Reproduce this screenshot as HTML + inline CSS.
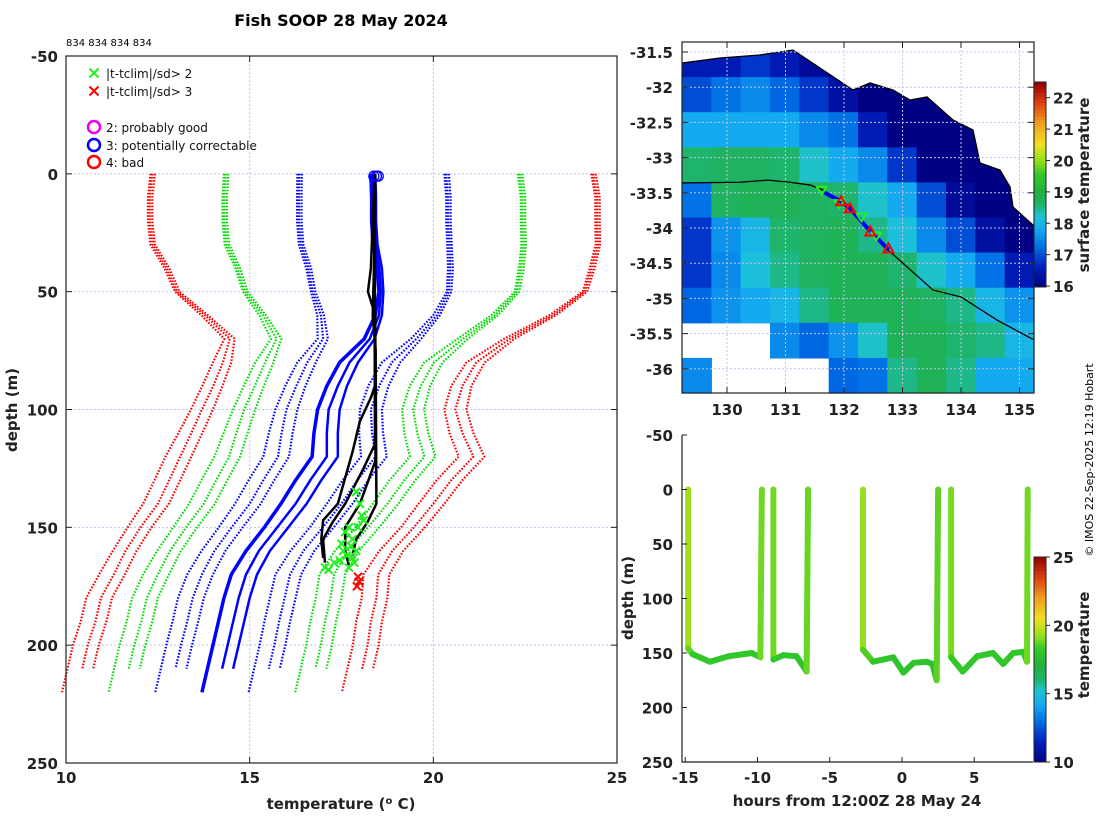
<!DOCTYPE html>
<html><head><meta charset="utf-8">
<style>
html,body{margin:0;padding:0;background:#fff;}
svg{display:block;font-family:"DejaVu Sans","Liberation Sans",sans-serif;}
.tk{font-weight:bold;font-size:15px;fill:#222;}
.lg{font-size:12px;fill:#111;}
</style></head>
<body>
<svg id="fig" width="1100" height="820" viewBox="0 0 1100 820" xmlns="http://www.w3.org/2000/svg">
<text x="341" y="26" text-anchor="middle" font-weight="bold" font-size="16">Fish SOOP 28 May 2024</text>
<text x="66" y="46" font-size="10">834 834 834 834</text>
<g id="left"></g>
<g id="map"></g>
<g id="trace"></g>
<text transform="translate(1093,460) rotate(-90)" text-anchor="middle" font-size="11">© IMOS 22-Sep-2025 12:19 Hobart</text>
</svg>
<script>
// ---------- LEFT PROFILE DATA ----------
const climDepth = [0,10,20,30,40,50,60,70,80,90,100,110,120,130,140,150,160,170,180,190,200,210,220];
const meanA = [18.3,18.32,18.32,18.36,18.47,18.52,18.42,18.12,17.45,17.1,16.85,16.75,16.7,16.25,15.85,15.4,14.9,14.5,14.3,14.15,14.0,13.85,13.7];
const meanB = [18.35,18.37,18.37,18.42,18.53,18.57,18.52,18.27,17.72,17.4,17.15,17.1,17.1,16.65,16.25,15.75,15.25,14.9,14.7,14.55,14.4,14.25];
const meanC = [18.42,18.44,18.44,18.48,18.6,18.64,18.6,18.4,17.95,17.65,17.45,17.4,17.4,16.95,16.55,16.05,15.55,15.2,15.0,14.85,14.7,14.55];
const climSd = [2.0,2.03,2.03,2.02,1.93,1.85,1.58,1.27,1.15,1.13,1.15,1.23,1.33,1.28,1.25,1.24,1.21,1.2,1.25,1.25,1.27,1.27,1.27];
const sdLevels = [-3,-2,-1,1,2,3];
const bDepth1=[0,50,90,95,105,118,140,147,155,163], bTemp1=[18.41,18.41,18.41,18.3,18.0,17.8,17.4,17.0,16.95,17.0];
const bDepth2=[0,50,110,115,125,140,148,155,165], bTemp2=[18.41,18.4,18.41,18.4,18.1,17.6,17.25,17.0,17.05];
const bDepth3=[0,40,50,60,118,122,140,150,160,166], bTemp3=[18.4,18.3,18.22,18.42,18.43,18.42,18.0,17.6,17.6,17.7];
const bDepth4=[0,30,60,75,140,148,155,162], bTemp4=[18.42,18.4,18.35,18.43,18.45,18.2,17.9,17.8];
const flag2Temp=[17.9,18.0,18.05,17.7,17.6,17.8,17.5,17.75,17.9,17.65,17.45,17.85,17.3,17.05,17.15,17.7,17.95,18.1,17.55,17.8];
const flag2Depth=[135,140,145,150,152,155,157,158,160,162,164,165,165,167,168,167,150,147,160,163];
const flag3Temp=[17.95,17.98,17.92];
const flag3Depth=[171,173,175];
const tempTicks=[10,15,20,25];
const depthTicks=[-50,0,50,100,150,200,250];

// ---------- MAP DATA ----------
const sstGrid=[
[16.5,16.5,16.8,16.5,16.2,16.0,16.0,16.0,16.0,null,null,null],
[17.0,17.3,17.5,17.2,16.8,16.3,16.0,16.0,16.0,16.0,null,null],
[17.8,17.8,17.8,17.8,17.5,17.3,16.5,16.0,16.0,16.0,16.0,null],
[18.6,18.7,18.7,18.6,18.3,17.8,17.5,16.8,16.0,16.0,16.0,16.0],
[17.3,18.7,18.8,18.8,18.7,18.6,18.3,17.8,17.0,16.2,16.0,16.0],
[16.8,17.6,18.0,18.6,18.7,18.8,18.5,18.2,17.5,17.0,16.3,16.0],
[16.8,17.5,18.2,18.5,18.7,18.8,18.8,18.6,18.3,17.8,17.3,16.5],
[17.2,17.6,17.8,18.0,18.5,18.8,18.8,18.8,18.7,18.5,18.0,17.6],
[null,null,null,17.5,17.2,17.6,18.3,18.8,18.8,18.6,18.5,18.0],
[17.5,null,null,null,null,17.2,17.3,18.5,18.8,18.5,17.8,17.8]];
const trackLon=[129.23,130.22,130.70,131.08,131.42,131.64,132.10,132.75,133.52,134.0,134.62,135.25];
const trackLat=[-33.36,-33.35,-33.32,-33.35,-33.39,-33.46,-33.74,-34.31,-34.88,-34.98,-35.31,-35.59];
const shipLon=[131.65,131.9,132.1,132.4,132.76];
const shipLat=[-33.49,-33.6,-33.72,-34.0,-34.31];
const redTriLon=[131.95,132.1,132.45,132.76], redTriLat=[-33.62,-33.72,-34.05,-34.29];
const grnTriLon=[131.62,131.92,132.3,132.55], grnTriLat=[-33.47,-33.66,-33.85,-34.12];
const lonTicks=[130,131,132,133,134,135];
const latTicks=[-31.5,-32,-32.5,-33,-33.5,-34,-34.5,-35,-35.5,-36];
const sstTicks=[16,17,18,19,20,21,22];

// ---------- TRACE DATA (null = break) ----------
const trHours=[-14.8,-14.8,-14.5,-13.3,-12.0,-10.4,-9.8,-9.7,null,-8.9,-8.9,-8.2,-7.3,-6.6,-6.5,null,-2.7,-2.7,-2.0,-0.6,0.1,0.8,1.7,2.1,2.4,2.5,null,3.4,3.4,4.2,5.2,6.3,7.0,7.7,8.4,8.65,8.7];
const trDepth=[0,146,151,158,153,150,154,0,null,0,156,152,153,167,0,null,0,147,158,154,168,159,158,160,175,0,null,0,154,167,153,150,160,150,149,158,0];
const trTemp=[19.6,19.2,18.3,18.1,18.2,18.2,18.2,19.6,null,19.6,18.2,18.2,18.1,18.0,19.6,null,19.6,19.0,18.1,18.1,17.9,18.0,18.0,18.0,17.8,19.6,null,19.6,18.4,18.1,18.2,18.2,18.1,18.2,18.2,18.2,19.6];
const hourTicks=[-15,-10,-5,0,5];
const tDepthTicks=[-50,0,50,100,150,200,250];
const tempCbTicks=[10,15,20,25];

const NS="http://www.w3.org/2000/svg";
function mk(parent,tag,attrs){const e=document.createElementNS(NS,tag);for(const k in attrs)e.setAttribute(k,attrs[k]);parent.appendChild(e);return e;}
function txt(parent,x,y,s,cls,anchor){const t=mk(parent,'text',{x:x,y:y,'class':cls,'text-anchor':anchor||'middle'});t.textContent=s;return t;}
const stops=[[0,[0,0,128]],[0.1,[0,32,192]],[0.2,[0,112,230]],[0.28,[20,170,240]],[0.35,[30,195,215]],[0.4,[30,180,110]],[0.47,[34,176,60]],[0.55,[50,200,40]],[0.62,[150,224,30]],[0.7,[240,224,32]],[0.8,[240,160,32]],[0.9,[224,64,16]],[1,[144,0,0]]];
function cmap(f){f=Math.max(0,Math.min(1,f));for(let i=1;i<stops.length;i++){if(f<=stops[i][0]){const a=stops[i-1],b=stops[i];const u=(f-a[0])/(b[0]-a[0]);const c=a[1].map((v,j)=>Math.round(v+(b[1][j]-v)*u));return 'rgb('+c.join(',')+')';}}return 'rgb(144,0,0)';}

// ---------- LEFT PLOT ----------
(function(){
const g=document.getElementById('left');
const X0=66,X1=617,Y0=56,Y1=763;
const xs=t=>X0+(t-10)/15*(X1-X0);
const ys=d=>Y0+(d+50)/300*(Y1-Y0);
[15,20].forEach(t=>{const l=mk(g,'line',{x1:xs(t),x2:xs(t),y1:Y0,y2:Y1,stroke:'#c0c4e8','stroke-width':1,'stroke-dasharray':'2,2'});});
[0,50,100,150,200].forEach(d=>{const l=mk(g,'line',{x1:X0,x2:X1,y1:ys(d),y2:ys(d),stroke:'#c0c4e8','stroke-width':1,'stroke-dasharray':'2,2'});});
const colFor={1:'#0000ff',2:'#00dd00',3:'#ff0000'};
const means=[meanA,meanB,meanC];
means.forEach(M=>{
  sdLevels.forEach(k=>{
    const pts=M.map((m,i)=>xs(m+k*climSd[i]).toFixed(1)+','+ys(climDepth[i]).toFixed(1));
    const pl=mk(g,'polyline',{points:pts.join(' '),fill:'none',stroke:colFor[Math.abs(k)],'stroke-width':2.2,'stroke-dasharray':'1.6,1.6'});
    
    
  });
});
means.forEach((M,p)=>{
  const pts=M.map((m,i)=>xs(m)+','+ys(climDepth[i]));
  const pl=mk(g,'polyline',{points:pts.join(' '),fill:'none',stroke:'#0000ff','stroke-width':p===0?3.5:2.5});
  
  
});
[[bDepth1,bTemp1],[bDepth2,bTemp2],[bDepth3,bTemp3],[bDepth4,bTemp4]].forEach(([D,T])=>{
  const pts=D.map((d,i)=>xs(T[i])+','+ys(d)).join(' ');
  const pl=mk(g,'polyline',{points:pts,fill:'none',stroke:'#000','stroke-width':2.5});
  
  
});
function cross(x,y,c,s){return mk(g,'path',{d:`M${x-s},${y-s}L${x+s},${y+s}M${x-s},${y+s}L${x+s},${y-s}`,stroke:c,'stroke-width':2});}
flag2Temp.forEach((t,i)=>{const p=cross(xs(t),ys(flag2Depth[i]),'#22ee22',4);});
flag3Temp.forEach((t,i)=>{const p=cross(xs(t),ys(flag3Depth[i]),'#ff0000',4);});
[18.38,18.45,18.5].forEach(t=>{const c=mk(g,'circle',{cx:xs(t),cy:ys(1),r:5,fill:'none',stroke:'#0000ff','stroke-width':1.3});});
const fr=mk(g,'rect',{x:X0,y:Y0,width:X1-X0,height:Y1-Y0,fill:'none',stroke:'#222','stroke-width':1.2});

depthTicks.forEach(d=>{mk(g,'line',{x1:X0,x2:X0+6,y1:ys(d),y2:ys(d),stroke:'#222'});mk(g,'line',{x1:X1-6,x2:X1,y1:ys(d),y2:ys(d),stroke:'#222'});const t=txt(g,X0-8,ys(d)+6,String(d),'tk','end');});
tempTicks.forEach(v=>{mk(g,'line',{x1:xs(v),x2:xs(v),y1:Y1,y2:Y1-6,stroke:'#222'});mk(g,'line',{x1:xs(v),x2:xs(v),y1:Y0,y2:Y0+6,stroke:'#222'});const t=txt(g,xs(v),783,String(v),'tk');});
const xl=mk(g,'text',{x:341,y:809,'text-anchor':'middle','class':'tk'});xl.innerHTML='temperature (<tspan baseline-shift="super" font-size="10">o</tspan> C)';

const yl=mk(g,'text',{transform:'translate(17,410) rotate(-90)','text-anchor':'middle','class':'tk'});yl.textContent='depth (m)';

const lg=mk(g,'g',{});
lg.appendChild(cross(94,73,'#22ee22',4.5));
lg.appendChild(cross(94,91,'#ff0000',4.5));
const e1=txt(lg,106,78,'|t-tclim|/sd> 2','lg','start');
const e2=txt(lg,106,96,'|t-tclim|/sd> 3','lg','start');
[['#ee00ee',127,'2: probably good'],['#0000ff',145,'3: potentially correctable'],['#ff0000',162,'4: bad']].forEach(([c,y,s])=>{mk(lg,'circle',{cx:94,cy:y,r:6,fill:'none',stroke:c,'stroke-width':2.5});const t=txt(lg,106,y+5,s,'lg','start');});
})();

// ---------- MAP ----------
(function(){
const g=document.getElementById('map');
const X0=682,X1=1034,Y0=42,Y1=393;
const lx=lon=>727+(lon-130)*58.5;
const ly=lat=>52+(-31.5-lat)*70.4;
const nr=sstGrid.length,nc=sstGrid[0].length;
const cw=(X1-X0)/nc,ch=(Y1-Y0)/nr;
sstGrid.forEach((row,r)=>row.forEach((v,c)=>{if(v===null)return;const e=mk(g,'rect',{x:X0+c*cw,y:Y0+r*ch,width:cw+0.6,height:ch+0.6,fill:cmap((v-15.97)/6.53)});}));
const cpts='682,63 720,58 760,55 793,50 853,90 870,83 893,90 910,100 927,97 953,120 973,130 980,163 1000,170 1010,187 1013,207 1034,226';
const land=mk(g,'path',{d:'M682,42 L'+cpts.split(' ').join(' L')+' L1034,42 Z',fill:'#fff'});

const coast=mk(g,'polyline',{points:cpts,fill:'none',stroke:'#000','stroke-width':1.3});

lonTicks.forEach(v=>{mk(g,'line',{x1:lx(v),x2:lx(v),y1:Y0,y2:Y1,stroke:'#c0c4e8','stroke-dasharray':'2,2'});});
latTicks.forEach(v=>{mk(g,'line',{x1:X0,x2:X1,y1:ly(v),y2:ly(v),stroke:'#c0c4e8','stroke-dasharray':'2,2'});});
const tr=mk(g,'polyline',{points:trackLon.map((v,i)=>lx(v)+','+ly(trackLat[i])).join(' '),fill:'none',stroke:'#000','stroke-width':1.3});

const sp=mk(g,'polyline',{points:shipLon.map((v,i)=>lx(v)+','+ly(shipLat[i])).join(' '),fill:'none',stroke:'#0000ee','stroke-width':4});

grnTriLon.forEach((v,i)=>{const x=lx(v),y=ly(grnTriLat[i]);const p=mk(g,'path',{d:`M${x-5},${y-4}L${x+5},${y-4}L${x},${y+4}Z`,fill:'none',stroke:'#22ee22','stroke-width':2});});
redTriLon.forEach((v,i)=>{const x=lx(v),y=ly(redTriLat[i]);const p=mk(g,'path',{d:`M${x-5},${y+4}L${x+5},${y+4}L${x},${y-5}Z`,fill:'none',stroke:'#ff0000','stroke-width':2});});
const fr=mk(g,'rect',{x:X0,y:Y0,width:X1-X0,height:Y1-Y0,fill:'none',stroke:'#222','stroke-width':1.2});

lonTicks.forEach(v=>{mk(g,'line',{x1:lx(v),x2:lx(v),y1:Y1,y2:Y1-6,stroke:'#222'});mk(g,'line',{x1:lx(v),x2:lx(v),y1:Y0,y2:Y0+6,stroke:'#222'});const t=txt(g,lx(v),415,String(v),'tk');});
latTicks.forEach(v=>{mk(g,'line',{x1:X0,x2:X0+6,y1:ly(v),y2:ly(v),stroke:'#222'});mk(g,'line',{x1:X1-6,x2:X1,y1:ly(v),y2:ly(v),stroke:'#222'});const t=txt(g,673,ly(v)+6,String(v),'tk','end');});
const CB0=82,CB1=287,vmin=15.97,vmax=22.5;
const cby=v=>CB1-(v-vmin)/(vmax-vmin)*(CB1-CB0);
for(let i=0;i<60;i++){const r=mk(g,'rect',{x:1034,y:CB1-(i+1)/60*(CB1-CB0),width:12,height:(CB1-CB0)/60+0.5,fill:cmap((i+0.5)/60)});}
mk(g,'rect',{x:1034,y:CB0,width:12,height:CB1-CB0,fill:'none',stroke:'#222'});
sstTicks.forEach(v=>{mk(g,'line',{x1:1046,x2:1050,y1:cby(v),y2:cby(v),stroke:'#222'});const t=txt(g,1053,cby(v)+6,String(v),'tk','start');});
const ct=mk(g,'text',{transform:'translate(1089,185) rotate(-90)','text-anchor':'middle','class':'tk'});ct.textContent='surface temperature';

})();

// ---------- TRACE ----------
(function(){
const g=document.getElementById('trace');
const X0=682,X1=1033,Y0=435,Y1=762;
const hx=h=>902+h*14.45;
const dy=d=>Y0+(d+50)/300*(Y1-Y0);
for(let i=1;i<trHours.length;i++){
  if(trHours[i]===null||trHours[i-1]===null)continue;
  const tm=(trTemp[i]+trTemp[i-1])/2;
  const l=mk(g,'line',{x1:hx(trHours[i-1]),y1:dy(trDepth[i-1]),x2:hx(trHours[i]),y2:dy(trDepth[i]),stroke:cmap((tm-10)/15),'stroke-width':6,'stroke-linecap':'round'});
  
  
}
const fr=mk(g,'path',{d:`M${X0},${Y0}L${X0},${Y1}L${X1},${Y1}`,fill:'none',stroke:'#222','stroke-width':1.2});

hourTicks.forEach(v=>{mk(g,'line',{x1:hx(v),x2:hx(v),y1:Y1,y2:Y1-5,stroke:'#222'});const t=txt(g,hx(v),783,String(v),'tk');});
tDepthTicks.forEach(v=>{mk(g,'line',{x1:X0,x2:X0+5,y1:dy(v),y2:dy(v),stroke:'#222'});const t=txt(g,673,dy(v)+6,String(v),'tk','end');});
const xl=txt(g,857,806,'hours from 12:00Z 28 May 24','tk');
const yl=mk(g,'text',{transform:'translate(633,598) rotate(-90)','text-anchor':'middle','class':'tk'});yl.textContent='depth (m)';

const CB0=557,CB1=762;
const cby=v=>CB1-(v-10)/15*(CB1-CB0);
for(let i=0;i<60;i++){const r=mk(g,'rect',{x:1034,y:CB1-(i+1)/60*(CB1-CB0),width:12,height:(CB1-CB0)/60+0.5,fill:cmap((i+0.5)/60)});}
mk(g,'rect',{x:1034,y:CB0,width:12,height:CB1-CB0,fill:'none',stroke:'#222'});
tempCbTicks.forEach(v=>{mk(g,'line',{x1:1046,x2:1050,y1:cby(v),y2:cby(v),stroke:'#222'});const t=txt(g,1053,cby(v)+6,String(v),'tk','start');});
const ct=mk(g,'text',{transform:'translate(1089,645) rotate(-90)','text-anchor':'middle','class':'tk'});ct.textContent='temperature';

})();
</script>
</body></html>
